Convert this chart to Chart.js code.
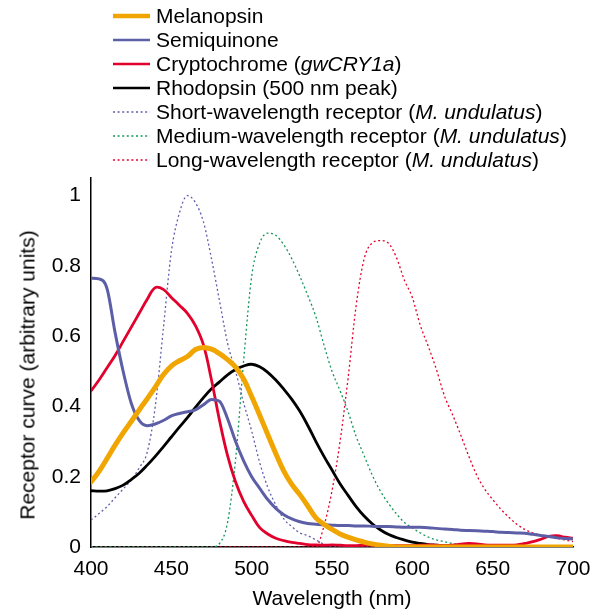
<!DOCTYPE html>
<html>
<head>
<meta charset="utf-8">
<script src="https://cdn.jsdelivr.net/npm/chart.js@4.4.0/dist/chart.umd.min.js"></script>
<style>
  html, body { margin: 0; padding: 0; background: #fff; }
  body { width: 601px; height: 613px; position: relative; overflow: hidden;
         font-family: "Liberation Sans", Arial, Helvetica, sans-serif; color: #000; }
  #c { position: absolute; left: 0; top: 0; }
  .lg { position: absolute; left: 113px; height: 24px; line-height: 24px; font-size: 21px; white-space: nowrap; display: flex; align-items: center; }
  .lg svg { width: 37px; height: 24px; margin-right: 6px; flex: none; }
  #ytitle { position: absolute; left: 27px; top: 375px; font-size: 21px; line-height: 1; white-space: nowrap;
            transform: translate(-50%, -50%) rotate(-90deg); }
</style>
</head>
<body>
<canvas id="c" width="601" height="613"></canvas>
<div id="legend"></div>
<div id="ytitle">Receptor curve (arbitrary units)</div>
<script>
// ---- data ----
const wavelengths = [];
for (let w = 400; w <= 700; w += 5) wavelengths.push(w);

const melanopsin = [0.185,0.215,0.252,0.29,0.325,0.357,0.39,0.422,0.455,0.49,0.515,0.53,0.542,0.562,0.568,0.563,0.55,0.533,0.512,0.478,0.428,0.375,0.32,0.266,0.216,0.178,0.149,0.116,0.083,0.065,0.05,0.037,0.028,0.02,0.014,0.009,0.005,0.002,0,
  0,0,0,0,0,0,0,0,0,0,0,0,0,0,0,0,0,0,0,0,0,0,0];
const semiquinone = [0.765,0.763,0.735,0.61,0.50,0.41,0.36,0.345,0.35,0.36,0.373,0.38,0.385,0.39,0.405,0.42,0.415,0.365,0.30,0.245,0.2,0.167,0.135,0.11,0.092,0.08,0.072,0.067,0.065,0.063,0.062,0.061,0.061,0.06,0.06,0.059,0.058,0.058,0.057,0.056,0.056,0.056,0.055,0.053,0.051,0.05,0.048,0.047,0.046,0.045,0.044,0.042,0.041,0.04,0.039,0.036,0.033,0.03,0.026,0.024,0.023];
const cryptochrome = [0.444,0.475,0.51,0.545,0.585,0.625,0.665,0.705,0.738,0.733,0.71,0.688,0.665,0.63,0.575,0.475,0.36,0.26,0.185,0.13,0.09,0.055,0.037,0.025,0.018,0.013,0.01,0.007,0.006,0.005,0.006,0.005,0.004,0.004,0.005,0.005,0.004,0.004,0.004,0.004,0.004,0.005,0.006,0.005,0.004,0.005,0.008,0.01,0.009,0.006,0.005,0.005,0.005,0.006,0.01,0.015,0.022,0.03,0.032,0.028,0.025];
const rhodopsin = [0.16,0.159,0.16,0.166,0.176,0.192,0.21,0.233,0.258,0.285,0.313,0.341,0.368,0.397,0.425,0.45,0.47,0.49,0.505,0.515,0.52,0.513,0.497,0.475,0.449,0.42,0.386,0.345,0.30,0.258,0.219,0.18,0.147,0.115,0.088,0.066,0.049,0.036,0.027,0.02,0.014,0.01,0.007,0.005,0.003,0.002,
  0,0,0,0,0,0,0,0,0,0,0,0,0,0,0];
const shortWave = [0.077,0.095,0.115,0.14,0.165,0.19,0.225,0.27,0.40,0.62,0.84,0.95,1.0,0.98,0.925,0.82,0.70,0.58,0.50,0.41,0.33,0.24,0.17,0.12,0.08,0.058,0.04,0.032,0.02,0.008,0,
  0,0,0,0,0,0,0,0,0,0,0,0,0,0,0,0,0,0,0,0,0,0,0,0,0,0,0,0,0,0];
const mediumWave = [0,0,0,0,0,0,0,0,0,0,0,0,0,0,0,
  0,0.01,0.07,0.25,0.53,0.77,0.865,0.893,0.887,0.86,0.82,0.77,0.715,0.655,0.575,0.50,0.445,0.385,0.315,0.26,0.205,0.16,0.125,0.095,0.07,0.054,0.04,0.028,0.02,0.015,0.01,0.006,0.003,0,
  0,0,0,0,0,0,0,0,0,0,0,0];
const longWave = [0,0,0,0,0,0,0,0,0,0,0,0,0,0,0,0,0,0,0,0,0,0,0,0,0,0,0,0,0,
  0.06,0.16,0.30,0.48,0.686,0.82,0.865,0.872,0.865,0.825,0.76,0.71,0.63,0.57,0.505,0.43,0.377,0.32,0.26,0.205,0.165,0.135,0.108,0.085,0.065,0.05,0.04,0.033,0.028,0.025,0.02,0.015];

const xTicks = [400, 450, 500, 550, 600, 650, 700];
const yTicks = [0, 0.2, 0.4, 0.6, 0.8, 1];

const seriesNames = ['Melanopsin', 'Semiquinone', 'Cryptochrome (<i>gwCRY1a</i>)', 'Rhodopsin (500 nm peak)',
  'Short-wavelength receptor (<i>M. undulatus</i>)', 'Medium-wavelength receptor (<i>M. undulatus</i>)', 'Long-wavelength receptor (<i>M. undulatus</i>)'];

// ---- styles ----
const styles = [
  { data: melanopsin,  color: 'rgb(240,165,0)',  width: 5,   dash: [],     order: 1, mono: false },
  { data: semiquinone, color: 'rgb(92,95,166)',  width: 3,   dash: [],     order: 2, mono: true },
  { data: cryptochrome,color: 'rgb(226,0,45)',   width: 2.8, dash: [],     order: 3, mono: false },
  { data: rhodopsin,   color: 'rgb(0,0,0)',      width: 2.8, dash: [],     order: 4, mono: false },
  { data: shortWave,   color: 'rgb(95,95,170)',  width: 1.3, dash: [2,2.6],order: 5, mono: true },
  { data: mediumWave,  color: 'rgb(20,150,90)',  width: 1.3, dash: [2,2.6],order: 6, mono: true },
  { data: longWave,    color: 'rgb(226,0,45)',   width: 1.3, dash: [2,2.6],order: 7, mono: true }
];

const datasets = styles.map((s, i) => ({
  label: seriesNames[i].replace(/<[^>]+>/g, ''),
  data: wavelengths.map((w, k) => ({ x: w, y: s.data[k] })),
  borderColor: s.color,
  backgroundColor: s.color,
  borderWidth: s.width,
  borderDash: s.dash,
  pointRadius: 0,
  fill: false,
  tension: 0.4,
  cubicInterpolationMode: s.mono ? 'monotone' : 'default',
  borderJoinStyle: 'round',
  borderCapStyle: s.dash.length ? 'butt' : 'round',
  order: s.order
}));

// ---- HTML legend ----
const legend = document.getElementById('legend');
const rowCenters = [16, 40, 64, 88, 112, 136, 160];
styles.forEach((s, i) => {
  const row = document.createElement('div');
  row.className = 'lg';
  row.style.top = (rowCenters[i] - 12) + 'px';
  const dash = s.dash.length ? `stroke-dasharray="2 2.6"` : '';
  row.innerHTML = `<svg viewBox="0 0 37 24"><line x1="0" y1="12" x2="37" y2="12" stroke="${s.color}" stroke-width="${s.width === 5 ? 4.5 : (s.dash.length ? 1.5 : 2.6)}" stroke-linecap="${s.width===5?'round':'butt'}" ${dash}/></svg><span>${seriesNames[i]}</span>`;
  legend.appendChild(row);
});

const FONT = { family: '"Liberation Sans", Arial, Helvetica, sans-serif', size: 21 };

new Chart(document.getElementById('c'), {
  type: 'line',
  data: { datasets },
  options: {
    responsive: false,
    animation: false,
    devicePixelRatio: 1,
    layout: { padding: { top: 178, right: 28, left: 0, bottom: 0 } },
    plugins: { legend: { display: false }, tooltip: { enabled: false } },
    scales: {
      x: {
        type: 'linear', min: 400, max: 700,
        grid: { display: false, drawTicks: false },
        border: { display: true, color: '#000', width: 1.5 },
        ticks: { stepSize: 50, color: '#000', font: FONT, padding: 10, maxRotation: 0 },
        afterBuildTicks: s => { s.ticks = xTicks.map(v => ({ value: v })); },
        afterFit: s => { s.height = 66; },
        title: { display: true, text: 'Wavelength (nm)', color: '#000', font: FONT, padding: { top: 0, bottom: 1 } }
      },
      y: {
        type: 'linear', min: 0, max: 1.05,
        grid: { display: false, drawTicks: false },
        border: { display: true, color: '#000', width: 1.5 },
        ticks: { stepSize: 0.2, color: '#000', font: FONT, padding: 10,
                 callback: v => String(Number(v.toFixed(1))) },
        afterBuildTicks: s => { s.ticks = yTicks.map(v => ({ value: v })); },
        afterFit: s => { s.width = 91; }
      }
    }
  }
});
</script>
</body>
</html>
